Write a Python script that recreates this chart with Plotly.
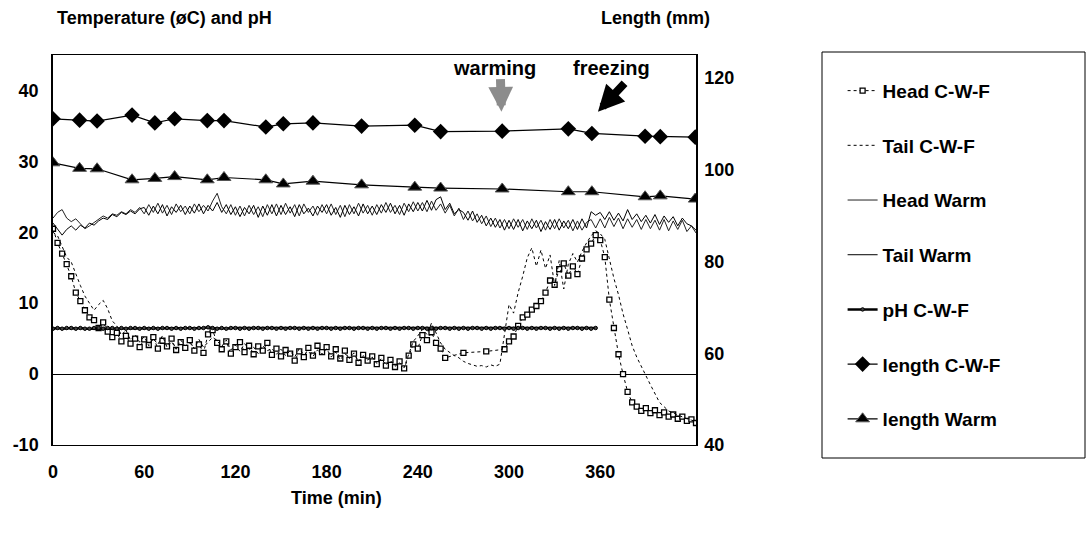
import plotly.graph_objects as go

# ---------------- data ----------------
time_min = list(range(0, 424, 3))  # 3-minute sampling grid, 0..423

head_warm = [
    22.0, 22.8, 23.2, 22.0, 21.5, 21.9, 21.2, 20.5, 20.9, 21.4,
    21.8, 22.3, 22.0, 22.6, 22.4, 22.9, 22.6, 23.2, 22.8, 23.5,
    22.6, 23.9, 22.8, 24.1, 22.7, 23.8, 22.5, 24.0, 22.9, 23.7,
    22.6, 24.0, 22.9, 23.8, 23.0, 24.4, 25.5, 23.6, 22.6, 23.9,
    22.4, 23.7, 22.3, 23.8, 22.5, 23.6, 22.2, 23.9, 22.6, 24.0,
    22.5, 24.1, 22.7, 23.9, 22.3, 24.0, 22.8, 23.7, 22.4, 23.9,
    22.6, 24.0, 22.5, 23.8, 22.2, 23.9, 22.6, 24.1, 22.7, 23.8,
    22.4, 23.9, 22.7, 24.2, 22.8, 23.8, 22.5, 24.1, 22.9, 24.3,
    23.0, 24.2, 22.9, 24.4, 23.1, 24.0, 22.7, 23.8, 22.3, 23.4,
    21.8, 23.0, 21.6, 22.6, 21.2, 22.3, 20.8, 22.0, 20.6, 21.8,
    20.5, 21.9, 20.7, 21.8, 20.4, 21.9, 20.6, 21.7, 20.3, 21.8,
    20.5, 21.9, 20.6, 21.7, 20.2, 21.6, 20.3, 21.4, 21.8, 20.6,
    21.9, 20.6, 22.1, 20.8, 22.0, 20.5, 21.9, 20.7, 21.8, 20.4,
    21.8, 20.5, 21.7, 20.3, 21.8, 20.2, 21.6, 20.4, 21.7, 20.1,
    20.9, 19.9,
]

tail_warm = [
    21.3, 20.5, 19.6, 20.4, 20.9, 20.3, 21.0, 20.6, 21.3, 21.0,
    21.6, 22.0, 21.8, 22.5, 22.2, 22.8, 22.5, 23.0, 22.6, 23.3,
    23.5, 22.4, 23.7, 22.6, 23.9, 22.3, 23.6, 22.8, 23.8, 22.5,
    23.7, 22.7, 24.0, 22.6, 23.8, 23.0, 24.2, 22.8, 23.9, 22.5,
    23.6, 22.2, 23.5, 22.6, 23.8, 22.1, 23.7, 22.4, 23.9, 22.3,
    23.8, 22.5, 23.6, 22.2, 23.9, 22.6, 23.4, 22.3, 23.7, 22.8,
    23.9, 22.4, 23.5, 22.1, 23.8, 22.5, 23.6, 22.3, 24.0, 22.6,
    23.7, 22.5, 23.9, 22.8, 24.1, 22.6, 23.8, 22.4, 24.0, 22.9,
    24.2, 23.0, 24.5, 23.1, 24.6, 25.0, 23.2, 24.1, 22.6, 23.2,
    22.8, 21.7, 23.0, 21.4, 22.4, 20.9, 22.0, 20.7, 21.8, 20.3,
    21.7, 20.4, 21.8, 20.2, 21.6, 20.5, 21.7, 20.1, 21.5, 20.4,
    21.8, 20.3, 21.6, 20.5, 21.8, 20.4, 21.9, 20.6, 22.9, 22.4,
    22.8, 21.8, 22.9, 21.7, 22.7, 21.6, 23.2, 21.8, 22.6, 21.5,
    22.4, 21.3, 22.5, 21.1, 22.3, 21.4, 22.2, 20.9, 22.0, 21.2,
    20.9, 20.3,
]

head_cwf = [
    20.5, 18.5, 17.0, 15.5, 13.8, 11.5, 10.3, 9.0, 8.0, 7.6,
    6.5, 7.3, 6.0, 5.2, 5.8, 4.6, 5.4, 4.3, 5.0, 3.8,
    4.9, 4.1, 5.2, 3.6, 4.7, 3.9, 5.0, 3.4, 4.5, 3.7,
    4.8, 3.3, 4.2, 3.0, 5.6, 6.2, 4.4, 3.5, 4.6, 2.9,
    3.8, 4.5, 3.1, 4.0, 2.8, 3.9, 3.3, 4.4, 2.7, 3.6,
    2.5, 3.4, 2.9, 1.9, 3.2, 2.4, 3.7, 2.6, 4.0, 3.1,
    3.8, 2.5, 3.5, 2.2, 3.3, 2.0, 2.9, 1.6, 2.7, 1.9,
    2.5, 1.4, 2.3, 1.2, 2.0, 1.0, 1.8, 0.8, 2.6, 4.2,
    3.6, 5.5, 4.8, 5.9, 4.4, 3.6, 2.3, None, None, None,
    3.0, None, None, None, None, 3.2, None, None, None, 3.5,
    4.6, 5.3, 6.8, 8.0, 8.4, 9.1, 9.6, 10.3, 11.5, 13.2,
    12.6, 14.8, 15.6, 13.9, 15.2, 14.1, 16.3, 17.6, 18.4, 19.6,
    18.9, 16.5, 10.5, 6.5, 2.8, 0.0, -2.5, -4.0, -4.6, -5.2,
    -4.8, -5.5, -5.1, -5.8, -5.4, -6.0, -5.7, -6.3, -6.0, -6.6,
    -6.4, -6.9,
]

tail_cwf = [
    20.0, 19.5, 18.0, 16.5, 15.8, 14.0, 12.5, 11.0, 10.0, 9.0,
    9.8, 10.4, 9.2, 7.5, 6.8, 5.5, 6.2, 4.8, 5.6, 4.5,
    5.3, 4.0, 5.0, 4.2, 5.4, 3.8, 4.6, 3.5, 4.8, 4.0,
    4.4, 3.6, 4.9, 3.8, 4.5, 5.2, 4.7, 3.9, 4.8, 3.4,
    4.1, 3.2, 4.3, 3.5, 3.8, 2.9, 4.0, 3.3, 3.6, 2.8,
    3.5, 2.6, 3.3, 2.4, 3.6, 2.7, 3.2, 2.5, 3.4, 2.8,
    3.6, 2.4, 3.1, 2.0, 2.9, 2.2, 3.0, 1.8, 2.6, 2.0,
    2.4, 1.5, 2.2, 1.3, 1.9, 1.1, 1.6, 0.9, 2.8, 4.6,
    5.4, 6.3, 5.6, 7.2, 5.8, 4.4, 3.5, 3.0, 2.6, 2.3,
    1.8, 1.5, 1.3, 1.1, 1.2, 1.0, 1.3, 1.1, 1.4, 5.5,
    9.8, 8.6, 11.5, 13.8, 16.4, 17.8, 15.2, 17.5, 14.9, 16.8,
    12.5, 16.0, 12.0, 15.5, 17.0, 15.8, 17.3, 18.5, 19.5, 20.2,
    19.8, 19.0, 16.0, 13.5, 11.2, 8.5, 6.3, 4.0, 2.4, 1.0,
    -0.2, -1.5, -2.7, -4.0, -4.6, -5.2, -5.5, -5.8, -6.0, -6.3,
    -6.5, -6.7,
]

ph_cwf = [
    6.4, 6.5, 6.4, 6.5, 6.5, 6.4, 6.5, 6.4, 6.4, 6.5,
    6.5, 6.4, 6.5, 6.5, 6.4, 6.5, 6.4, 6.5, 6.5, 6.4,
    6.5, 6.4, 6.5, 6.4, 6.5, 6.5, 6.4, 6.5, 6.4, 6.5,
    6.5, 6.4, 6.5, 6.5, 6.6, 6.5, 6.4, 6.5, 6.4, 6.5,
    6.5, 6.4, 6.5, 6.4, 6.5, 6.5, 6.4, 6.5, 6.5, 6.4,
    6.5, 6.4, 6.5, 6.5, 6.4, 6.5, 6.4, 6.5, 6.4, 6.5,
    6.5, 6.4, 6.5, 6.4, 6.5, 6.5, 6.4, 6.5, 6.5, 6.4,
    6.5, 6.4, 6.5, 6.5, 6.4, 6.5, 6.4, 6.5, 6.5, 6.4,
    6.5, 6.5, 6.4, 6.5, 6.4, 6.5, 6.5, 6.4, 6.5, 6.4,
    6.5, 6.4, 6.5, 6.5, 6.4, 6.5, 6.4, 6.5, 6.5, 6.4,
    6.5, 6.4, 6.5, 6.5, 6.4, 6.5, 6.4, 6.5, 6.5, 6.4,
    6.5, 6.4, 6.5, 6.4, 6.5, 6.5, 6.4, 6.5, 6.4, 6.5,
]
ph_time = time_min[:len(ph_cwf)]

length_time = [0, 17.5, 29, 52, 67, 80, 101.5, 112.5, 140, 151.5,
               171, 203, 238, 255, 295.5, 339, 354.5, 389.5, 399.5, 422.5]
length_cwf = [111.1, 110.8, 110.6, 111.9, 110.2, 111.1, 110.7, 110.7, 109.3, 110.0,
              110.2, 109.5, 109.7, 108.3, 108.4, 108.9, 107.9, 107.3, 107.2, 107.1]
length_warm = [101.5, 100.3, 100.2, 97.8, 98.1, 98.5, 97.8, 98.3, 97.8, 96.9,
               97.5, 96.7, 96.2, 96.0, 95.8, 95.2, 95.2, 94.1, 94.3, 93.6]

x_ticks = [0, 60, 120, 180, 240, 300, 360]
left_ticks = [-10, 0, 10, 20, 30, 40]
left_labels = ["-10", "0", "10", "20", "30", "40"]
right_ticks = [40, 60, 80, 100, 120]

# ---------------- figure ----------------
FONT = "Liberation Sans, Arial, sans-serif"
FS = 18
PL, PR, PT, PB = 53, 696, 55, 445   # plot area in pixels
PW, PH = PR - PL, PB - PT


def px(xp):
    return (xp - PL) / PW


def py(yp):
    return (PB - yp) / PH


fig = go.Figure()

fig.add_trace(go.Scatter(
    x=time_min, y=head_cwf, name="Head C-W-F", legendgroup="g1",
    mode="lines+markers", connectgaps=True,
    line=dict(color="black", width=1, dash="dot"),
    marker=dict(symbol="square", size=5, color="white",
                line=dict(color="black", width=1.3)),
))
fig.add_trace(go.Scatter(
    x=time_min, y=tail_cwf, name="Tail C-W-F", legendgroup="g2",
    mode="lines", line=dict(color="black", width=1, dash="dot"),
))
fig.add_trace(go.Scatter(
    x=time_min, y=head_warm, name="Head Warm", legendgroup="g3",
    mode="lines", line=dict(color="#222", width=1),
))
fig.add_trace(go.Scatter(
    x=time_min, y=tail_warm, name="Tail Warm", legendgroup="g4",
    mode="lines", line=dict(color="black", width=1),
))
fig.add_trace(go.Scatter(
    x=ph_time, y=ph_cwf, name="pH C-W-F", legendgroup="g5",
    mode="lines+markers", line=dict(color="black", width=2.5),
    marker=dict(symbol="circle", size=3.5, color="#444",
                line=dict(color="black", width=1)),
))
fig.add_trace(go.Scatter(
    x=length_time, y=length_cwf, name="length C-W-F", legendgroup="g6",
    yaxis="y2", mode="lines+markers", line=dict(color="black", width=1.2),
    marker=dict(symbol="diamond", size=12, color="black"),
))
fig.add_trace(go.Scatter(
    x=length_time, y=length_warm, name="length Warm", legendgroup="g7",
    yaxis="y2", mode="lines+markers", line=dict(color="black", width=1.2),
    marker=dict(symbol="triangle-up", size=12, color="black",
                line=dict(color="#555", width=1)),
))

fig.update_layout(
    width=1088, height=539,
    margin=dict(l=PL, r=1088 - PR, t=PT, b=539 - PB),
    paper_bgcolor="white", plot_bgcolor="white",
    font=dict(family=FONT, size=FS, color="black", weight="bold"),
    xaxis=dict(range=[0, 423], tickvals=x_ticks, showgrid=False, zeroline=False,
               showline=True, mirror=True, linecolor="black", linewidth=1,
               ticks="", ticklabelstandoff=10, automargin=False),
    yaxis=dict(range=[-10, 45], tickvals=left_ticks, ticktext=left_labels,
               showgrid=False, zeroline=True, zerolinecolor="black", zerolinewidth=1,
               showline=True, linecolor="black", linewidth=1.5,
               ticks="", ticklabelstandoff=9, automargin=False),
    yaxis2=dict(range=[40, 125], tickvals=right_ticks, overlaying="y", side="right",
                showgrid=False, zeroline=False, showline=True, linecolor="black",
                linewidth=1.5, ticks="", ticklabelstandoff=3, automargin=False),
    showlegend=True,
    legend=dict(x=1.228, xanchor="left", y=0.957, yanchor="top",
                bgcolor="rgba(0,0,0,0)", borderwidth=0,
                font=dict(size=19),
                tracegroupgap=27, itemwidth=30),
)

# legend frame
fig.add_shape(type="rect", xref="paper", yref="paper",
              x0=px(822), x1=px(1085), y0=py(458), y1=py(52),
              line=dict(color="black", width=1), fillcolor="rgba(0,0,0,0)")

# axis titles
fig.add_annotation(text="Temperature (øC) and pH", xref="paper", yref="paper",
                   x=px(55), y=py(18), xanchor="left", yanchor="middle",
                   showarrow=False)
fig.add_annotation(text="Length (mm)", xref="paper", yref="paper",
                   x=px(655), y=py(18), xanchor="center", yanchor="middle",
                   showarrow=False)
fig.add_annotation(text="Time (min)", xref="paper", yref="paper",
                   x=px(336), y=py(498), xanchor="center", yanchor="middle",
                   showarrow=False)

# event annotations (labels)
fig.add_annotation(text="warming", xref="paper", yref="paper",
                   x=px(494), y=py(68), xanchor="center", yanchor="middle",
                   showarrow=False, font=dict(size=20))
fig.add_annotation(text="freezing", xref="paper", yref="paper",
                   x=px(611), y=py(68), xanchor="center", yanchor="middle",
                   showarrow=False, font=dict(size=20))
# event arrows
fig.add_annotation(text="", x=295, y=37.0, xref="x", yref="y",
                   ax=-1, ay=-34, showarrow=True, arrowhead=2, arrowsize=0.55,
                   arrowwidth=9, arrowcolor="#8c8c8c", standoff=0)
fig.add_annotation(text="", x=358.5, y=37.0, xref="x", yref="y",
                   ax=28, ay=-30, showarrow=True, arrowhead=2, arrowsize=0.65,
                   arrowwidth=8, arrowcolor="black", standoff=0)

fig.write_html("out.html", config={"displayModeBar": False},
               post_script="document.body.style.margin='0';")
